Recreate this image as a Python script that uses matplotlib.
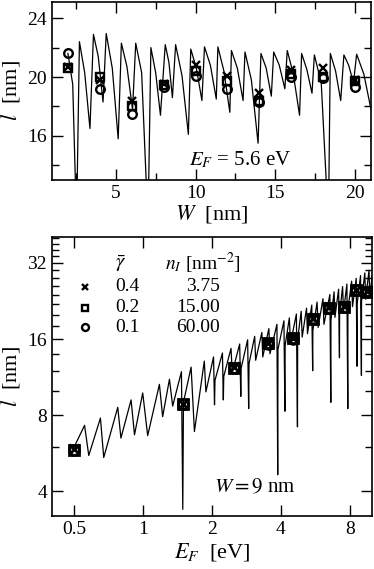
import matplotlib
matplotlib.use("Agg")
import matplotlib.pyplot as plt
from matplotlib.ticker import FixedLocator, NullFormatter, FixedFormatter

plt.rcParams['font.family'] = 'serif'
plt.rcParams['font.serif'] = ['Liberation Serif', 'DejaVu Serif']
plt.rcParams['mathtext.fontset'] = 'stix'

# ---------------- top panel data (E_F = 5.6 eV) ----------------
W_curve = [2.00, 2.30, 2.54,
           2.72, 3.05, 3.38,
           3.60, 3.90, 4.20,
           4.40, 4.78, 5.15,
           5.35, 5.70, 6.05,
           6.25, 6.62, 7.02,
           7.20, 7.50, 7.80,
           8.10, 8.33, 8.55,
           8.75, 9.15, 9.55,
           9.70, 10.05, 10.40,
           10.56, 10.93, 11.30,
           11.40, 11.78, 12.15,
           12.25, 12.62, 12.98,
           13.10, 13.50, 13.92,
           14.10, 14.43, 14.75,
           14.90, 15.25, 15.60,
           15.75, 16.13, 16.52,
           16.65, 16.98, 17.30,
           17.45, 17.88, 18.33,
           18.45, 18.78, 19.10,
           19.30, 19.60, 19.90,
           20.10, 20.55, 21.00]
l_curve = [21.6, 19.5, 10.0,
           22.4, 20.3, 16.5,
           22.9, 21.4, 18.3,
           22.96, 20.6, 15.8,
           22.3, 20.7, 17.8,
           22.3, 20.3, 10.0,
           22.0, 20.3, 17.4,
           22.2, 21.0, 18.6,
           22.2, 20.1, 16.1,
           21.9, 20.6, 18.4,
           22.05, 20.8, 18.5,
           22.05, 20.4, 17.6,
           21.8, 20.6, 18.4,
           21.7, 19.8, 15.5,
           21.6, 20.6, 18.7,
           21.7, 20.8, 19.2,
           21.8, 20.2, 17.4,
           21.6, 20.5, 18.9,
           21.5, 19.6, 10.0,
           21.6, 20.4, 18.4,
           21.5, 20.8, 19.6,
           21.55, 20.2, 17.8]

W_marks = [2, 4, 6, 8, 10, 12, 14, 16, 18, 20]
l_cross_top = [20.7, 19.8, 18.4, 19.5, 20.8, 20.1, 18.9, 20.5, 20.6, 19.8]
l_square_top = [20.6, 20.0, 18.0, 19.45, 20.4, 19.7, 18.4, 20.2, 20.0, 19.7]
l_circle_top = [21.6, 19.2, 17.5, 19.3, 20.1, 19.2, 18.3, 20.0, 19.9, 19.35]

# ---------------- bottom panel data (W = 9 nm) ----------------
E_curve = [0.50, 0.555, 0.579, 0.651, 0.673, 0.775, 0.80, 0.886, 0.917, 0.996, 1.047,
           1.178, 1.217, 1.303, 1.346, 1.47, 1.49, 1.50, 1.62, 1.675, 1.85, 1.88,
           2.03, 2.05, 2.06,
           2.22, 2.24, 2.25,
           2.42, 2.45,
           2.64, 2.67, 2.68,
           2.86, 2.89, 2.90,
           3.07, 3.10,
           3.30, 3.33,
           3.54, 3.58,
           3.84, 3.87, 3.88,
           4.12, 4.16, 4.17,
           4.35, 4.40,
           4.67, 4.72, 4.73,
           4.90, 4.95,
           5.17, 5.22,
           5.45, 5.50, 5.51,
           5.75, 5.81,
           6.10, 6.16,
           6.54, 6.60, 6.61,
           6.82, 6.88,
           7.14, 7.20, 7.21,
           7.43, 7.50,
           7.76, 7.83, 7.84,
           8.14, 8.21,
           8.52, 8.59, 8.60,
           8.90, 8.98, 8.99,
           9.29, 9.37,
           9.69, 9.77,
           10.0]
l_curve_b = [6.0, 7.3, 5.55, 7.8, 5.45, 8.6, 6.5, 9.2, 6.7, 9.8, 6.65,
             10.6, 7.9, 11.1, 8.7, 11.9, 3.4, 9.0, 12.4, 6.9, 13.1, 9.9,
             13.6, 8.8, 11.0,
             14.1, 9.2, 11.4,
             14.7, 11.8,
             15.3, 9.5, 12.3,
             15.9, 8.5, 12.8,
             16.4, 13.2,
             17.0, 13.6,
             17.6, 14.0,
             18.3, 4.66, 14.6,
             18.9, 8.3, 15.1,
             19.4, 15.4,
             20.1, 7.2, 16.0,
             20.6, 16.3,
             21.2, 16.8,
             21.8, 12.0, 17.3,
             22.4, 17.8,
             23.1, 18.3,
             24.0, 9.0, 19.0,
             24.6, 19.5,
             25.2, 13.5, 20.0,
             25.8, 20.5,
             26.4, 8.5, 21.0,
             27.1, 21.5,
             27.8, 12.5, 22.0,
             28.5, 11.5, 22.5,
             29.2, 23.0,
             29.9, 23.5,
             28.5]

E_marks = [0.5, 1.5, 2.5, 3.5, 4.5, 5.5, 6.5, 7.5, 8.5, 9.5]
l_cross_b = [5.9, 8.9, 12.4, 15.5, 16.2, 19.3, 21.4, 21.6, 25.1, 24.7]
l_square_b = [5.85, 8.9, 12.35, 15.4, 16.1, 19.2, 21.3, 21.5, 25.0, 24.6]
l_circle_b = [5.85, 8.85, 12.3, 15.35, 16.05, 19.15, 21.25, 21.45, 24.9, 24.5]

legend_gamma = ['0.4', '0.2', '0.1']
legend_nI = ['3.75', '15.00', '60.00']
legend_markers = ['x', 's', 'o']

fig = plt.figure(figsize=(3.74, 5.69), dpi=100)
ax1 = fig.add_axes([0.139, 0.6837, 0.853, 0.3128])
ax2 = fig.add_axes([0.139, 0.0931, 0.856, 0.4904])

mk = dict(linestyle='none', color='black', mfc='none', mec='black', mew=1.7, ms=6.2)
mk2 = dict(linestyle='none', color='black', mfc='none', mec='black', mew=2.0, ms=7)

# top panel
ax1.plot(W_curve, l_curve, color='black', lw=0.9)
ax1.plot(W_marks, l_cross_top, marker='x', **mk)
ax1.plot(W_marks, l_square_top, marker='s', **mk)
ax1.plot(W_marks, l_circle_top, marker='o', **mk)
ax1.set_xlim(1, 21)
ax1.set_ylim(13, 25.1)
ax1.xaxis.set_major_locator(FixedLocator([5, 10, 15, 20]))
ax1.xaxis.set_minor_locator(FixedLocator([2.5, 7.5, 12.5, 17.5]))
ax1.yaxis.set_major_locator(FixedLocator([16, 20, 24]))
ax1.yaxis.set_minor_locator(FixedLocator([14, 18, 22]))
ax1.set_xlabel('$W$  [nm]', fontsize=16, labelpad=1)
ax1.set_ylabel('$l$  [nm]', fontsize=16, labelpad=4)
ax1.text(0.589, 0.11, '$E_F$ = 5.6 eV', transform=ax1.transAxes, ha='center', va='center', fontsize=15)

# bottom panel
ax2.plot(E_curve, l_curve_b, color='black', lw=0.9)
ax2.plot(E_marks, l_cross_b, marker='x', **mk2)
ax2.plot(E_marks, l_square_b, marker='s', **mk2)
ax2.plot(E_marks, l_circle_b, marker='o', **mk2)
ax2.set_xscale('log')
ax2.set_yscale('log')
ax2.set_xlim(0.4, 10)
ax2.set_ylim(3.2, 40.5)
xt = [0.5, 1, 2, 4, 8]
ax2.xaxis.set_major_locator(FixedLocator(xt))
ax2.xaxis.set_major_formatter(FixedFormatter(['0.5', '1', '2', '4', '8']))
ax2.xaxis.set_minor_locator(FixedLocator([]))
ax2.xaxis.set_minor_formatter(NullFormatter())
yt = [4, 8, 16, 32]
ax2.yaxis.set_major_locator(FixedLocator(yt))
ax2.yaxis.set_major_formatter(FixedFormatter(['4', '8', '16', '32']))
ax2.yaxis.set_minor_locator(FixedLocator([v for v in range(4, 41, 2) if v not in yt]))
ax2.yaxis.set_minor_formatter(NullFormatter())
ax2.set_xlabel('$E_F$  [eV]', fontsize=16, labelpad=2)
ax2.set_ylabel('$l$  [nm]', fontsize=16, labelpad=4)
ax2.text(0.634, 0.10, '$W = 9$ nm', transform=ax2.transAxes, ha='center', va='center', fontsize=15)

# legend table
ax2.text(0.215, 0.905, r'$\bar{\gamma}$', transform=ax2.transAxes, ha='center', va='center', fontsize=15)
ax2.text(0.353, 0.905, r'$n_I$ [nm$^{-2}$]', transform=ax2.transAxes, ha='left', va='center', fontsize=14)
rows_y = [0.821, 0.746, 0.677]
for m, g, n, yy in zip(legend_markers, legend_gamma, legend_nI, rows_y):
    ax2.plot([0.103], [yy], marker=m, transform=ax2.transAxes, linestyle='none',
             mfc='none', mec='black', mew=1.7, ms=5, color='black')
    ax2.text(0.235, yy, g, transform=ax2.transAxes, ha='center', va='center', fontsize=14)
    ax2.text(0.525, yy, n, transform=ax2.transAxes, ha='right', va='center', fontsize=14)

for ax in (ax1, ax2):
    ax.tick_params(which='both', direction='in', top=True, right=True, labelsize=14)
    ax.tick_params(which='major', length=8, width=1)
    ax.tick_params(which='minor', length=5, width=1)
    for s in ax.spines.values():
        s.set_linewidth(1.2)

fig.savefig('out.png', dpi=100)
